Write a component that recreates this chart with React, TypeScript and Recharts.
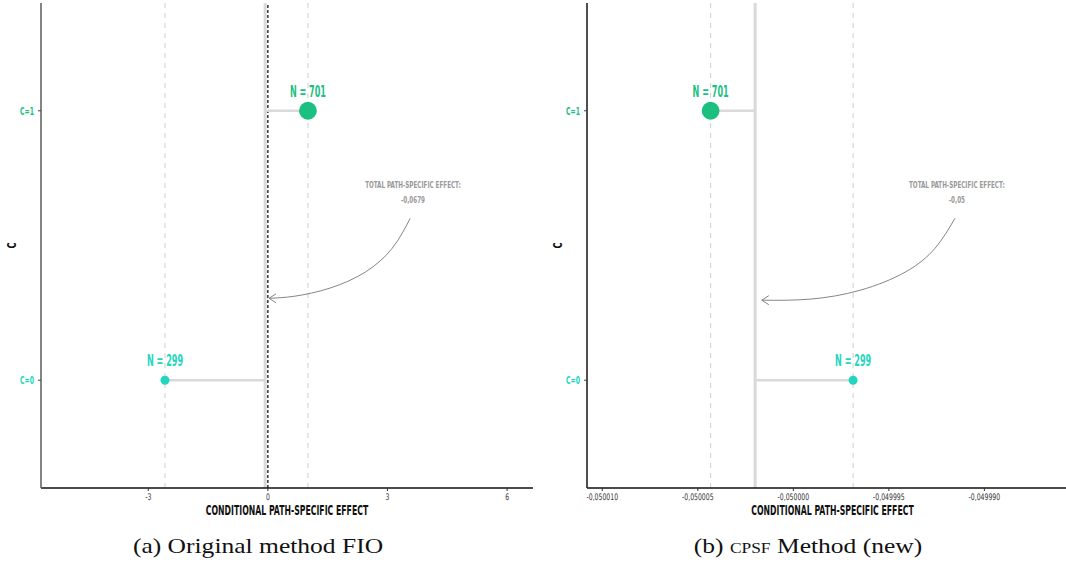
import React from "react";
import {
  ComposedChart,
  Scatter,
  Line,
  XAxis,
  YAxis,
  ReferenceLine,
  ReferenceDot,
} from "recharts";

// shared categories
const groups = ["C=0", "C=1"];
const groupCounts = [299, 701];
const groupColors = ["#22d6be", "#1bbf7f"];

// (a) original FIO method
const fioEffects = [-2.58, 1.005];
const fioTotal = -0.0679;
const fioDomain = [-5.69, 6.65];
const fioTicks = [-3, 0, 3, 6];
const fioNote = { x: 3.64, y: 0.7275 };
const fioArrowX = [3.57, 3.12, 2.44, 1.56, 0.68, 0.03];
const fioArrowY = [0.601, 0.49, 0.401, 0.342, 0.312, 0.304];

// (b) CPSF method
const cpsfEffects = [-0.04999687, -0.05000433];
const cpsfTotal = -0.050002;
const cpsfDomain = [-0.0500108, -0.0499851];
const cpsfTicks = [-0.05001, -0.050005, -0.05, -0.049995, -0.04999];
const cpsfNote = { x: -0.04999144, y: 0.7275 };
const cpsfArrowX = [-0.04999154, -0.04999258, -0.04999415, -0.0499965, -0.04999911, -0.05000165];
const cpsfArrowY = [0.601, 0.49, 0.401, 0.334, 0.301, 0.297];

const condensed = "'DejaVu Sans Condensed', 'DejaVu Sans', sans-serif";
const serif = "'Liberation Serif', 'DejaVu Serif', serif";

const dotRadius = (n: number) => 1.2 + n * 0.011;
const comma = (s: string) => s.replace(".", ",");

// squeezed text, stands in for a display condensed face
function NText({ x, y, sx = 0.7, rotate = 0, children, ...rest }: any) {
  const rot = rotate ? ` rotate(${rotate})` : "";
  return (
    <text
      transform={`translate(${x},${y})${rot} scale(${sx},1)`}
      fontFamily={condensed}
      fontWeight={700}
      {...rest}
    >
      {children}
    </text>
  );
}

function XTitle({ viewBox }: any) {
  return (
    <NText x={viewBox.x + viewBox.width / 2} y={viewBox.y + 22} sx={0.64} dy="0.35em" textAnchor="middle" fontSize={13.5} fill="#111">
      CONDITIONAL PATH-SPECIFIC EFFECT
    </NText>
  );
}

function YTitle({ viewBox }: any) {
  return (
    <NText x={12} y={viewBox.y + viewBox.height / 2} rotate={-90} sx={0.75} dy="0.35em" textAnchor="middle" fontSize={12} fill="#111">
      C
    </NText>
  );
}

type PanelProps = {
  effects: number[];
  total: number;
  totalDigits: number;
  domain: number[];
  ticks: number[];
  tickDigits: number | null;
  note: { x: number; y: number };
  arrowX: number[];
  arrowY: number[];
  showZero: boolean;
  yAxisColor: string;
  width: number;
  rightMargin: number;
};

function Panel(p: PanelProps) {
  const points = groups.map((g, i) => ({
    x: p.effects[i],
    y: i,
    n: groupCounts[i],
    color: groupColors[i],
  }));
  const arrow = p.arrowX.map((x, i) => ({ x, y: p.arrowY[i] }));
  const last = arrow.length - 1;
  const tickFmt = (v: number) =>
    p.tickDigits === null ? String(v) : comma(v.toFixed(p.tickDigits));

  return (
    <ComposedChart
      width={p.width}
      height={530}
      margin={{ top: 3, right: p.rightMargin, bottom: 12, left: 0 }}
    >
      <XAxis
        type="number"
        dataKey="x"
        domain={p.domain}
        ticks={p.ticks}
        allowDataOverflow
        height={30}
        axisLine={{ stroke: "#111", strokeWidth: 1.3 }}
        tickLine={{ stroke: "#333" }}
        tickSize={3}
        tick={(t: any) => (
          <NText x={t.x} y={t.y + 1} sx={0.76} dy="0.71em" textAnchor="middle" fontSize={9} fontWeight={400} fill="#333">
            {tickFmt(t.payload.value)}
          </NText>
        )}
        label={<XTitle />}
      />
      <YAxis
        type="number"
        dataKey="y"
        domain={[-0.4, 1.4]}
        ticks={[0, 1]}
        allowDataOverflow
        width={41}
        axisLine={{ stroke: p.yAxisColor, strokeWidth: 1.6 }}
        tickLine={{ stroke: "#444" }}
        tickSize={3}
        tick={(t: any) => (
          <NText x={t.x - 2} y={t.y} sx={0.62} dy="0.35em" textAnchor="end" fontSize={11} fill={groupColors[t.payload.value]}>
            {groups[t.payload.value]}
          </NText>
        )}
        label={<YTitle />}
      />

      {p.effects.map((e, i) => (
        <ReferenceLine key={"d" + i} x={e} stroke="#cfcfcf" strokeDasharray="5 5" strokeWidth={1} />
      ))}
      <ReferenceLine x={p.total} stroke="#d9d9d9" strokeWidth={3} />
      {p.showZero && <ReferenceLine x={0} stroke="#000" strokeDasharray="3 2" strokeWidth={1.2} />}
      {p.effects.map((e, i) => (
        <ReferenceLine
          key={"s" + i}
          segment={[
            { x: e, y: i },
            { x: p.total, y: i },
          ]}
          stroke="#d9d9d9"
          strokeWidth={2.5}
        />
      ))}

      <ReferenceDot
        x={p.note.x}
        y={p.note.y}
        r={0}
        shape={(d: any) => (
          <g>
            <NText x={d.cx} y={d.cy} sx={0.66} dy="0.35em" textAnchor="middle" fontSize={9.5} fill="#999">
              TOTAL PATH-SPECIFIC EFFECT:
            </NText>
            <NText x={d.cx} y={d.cy + 15} sx={0.66} dy="0.35em" textAnchor="middle" fontSize={9.5} fill="#999">
              {comma(p.total.toFixed(p.totalDigits))}
            </NText>
          </g>
        )}
      />

      <Line
        data={arrow}
        dataKey="y"
        type="natural"
        stroke="#777"
        strokeWidth={0.9}
        isAnimationActive={false}
        dot={(d: any) =>
          d.index === last ? (
            <path
              key="head"
              d={`M${d.cx + 7},${d.cy - 4.5} L${d.cx},${d.cy} L${d.cx + 7},${d.cy + 4.5}`}
              fill="none"
              stroke="#777"
              strokeWidth={0.9}
            />
          ) : (
            <g key={"p" + d.index} />
          )
        }
        activeDot={false}
      />

      <Scatter
        data={points}
        isAnimationActive={false}
        shape={(s: any) => (
          <g>
            <circle cx={s.cx} cy={s.cy} r={dotRadius(s.payload.n)} fill={s.payload.color} />
            <NText x={s.cx} y={s.cy - 19} sx={0.6} dy="0.35em" textAnchor="middle" fontSize={15} fill={s.payload.color}>
              {`N = ${s.payload.n}`}
            </NText>
          </g>
        )}
      />
    </ComposedChart>
  );
}

const captionStyle: React.CSSProperties = {
  position: "absolute",
  top: 534,
  width: 400,
  textAlign: "center",
  fontFamily: serif,
  fontSize: 22,
  lineHeight: "24px",
  color: "#111",
  transform: "scaleX(1.16)",
  transformOrigin: "center",
};

export default function App() {
  return (
    <div
      style={{
        position: "absolute",
        left: 0,
        top: 0,
        width: 1066,
        height: 562,
        background: "#fff",
        overflow: "hidden",
      }}
    >
      <div style={{ position: "absolute", left: 0, top: 0 }}>
        <Panel
          effects={fioEffects}
          total={fioTotal}
          totalDigits={4}
          domain={fioDomain}
          ticks={fioTicks}
          tickDigits={null}
          note={fioNote}
          arrowX={fioArrowX}
          arrowY={fioArrowY}
          showZero
          yAxisColor="#666"
          width={540}
          rightMargin={7}
        />
      </div>
      {/* the right panel runs a little past the page edge */}
      <div style={{ position: "absolute", left: 546, top: 0 }}>
        <Panel
          effects={cpsfEffects}
          total={cpsfTotal}
          totalDigits={2}
          domain={cpsfDomain}
          ticks={cpsfTicks}
          tickDigits={6}
          note={cpsfNote}
          arrowX={cpsfArrowX}
          arrowY={cpsfArrowY}
          showZero={false}
          yAxisColor="#222"
          width={532}
          rightMargin={0}
        />
      </div>
      <div style={{ ...captionStyle, left: 258 - 200 }}>(a) Original method FIO</div>
      <div style={{ ...captionStyle, left: 808 - 200 }}>
        (b) <span style={{ fontVariant: "small-caps" }}>cpsf</span> Method (new)
      </div>
    </div>
  );
}
